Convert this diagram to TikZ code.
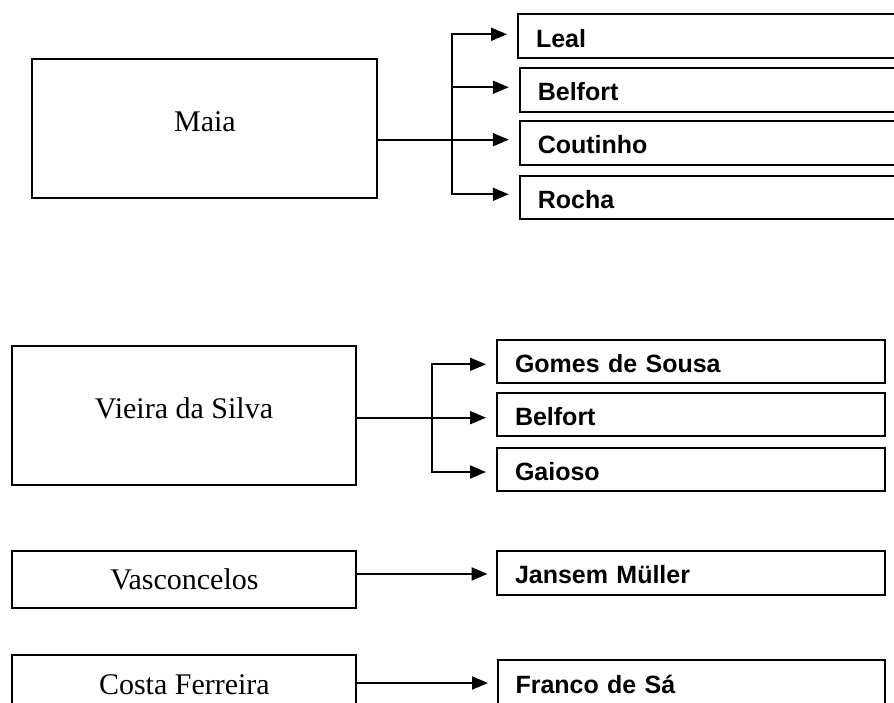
\documentclass[tikz,border=0pt]{standalone}
\usepackage{fontspec}
\setmainfont{Liberation Serif}
\setsansfont{Liberation Sans}
\usetikzlibrary{arrows.meta}
\begin{document}
\begin{tikzpicture}[x=1pt,y=-1pt,
  lbox/.style={draw, line width=2pt, inner sep=0pt, anchor=north west,
    font=\fontsize{30}{30}\selectfont, text height=20pt, text depth=0pt,
    minimum width=344pt},
  bigtext/.style={text depth=14pt},
  rbox/.style={draw, line width=2pt, inner xsep=18pt, inner ysep=0pt,
    anchor=north west, align=left,
    font=\sffamily\bfseries\fontsize{25}{25}\selectfont,
    text height=22pt, text depth=0pt},
  conn/.style={line width=1.8pt, line cap=rect},
  arr/.style={conn, -{Triangle[length=16pt,width=13pt]}, shorten >=10pt},
  arrb/.style={arr, shorten >=8.5pt}]
\useasboundingbox (0,0) rectangle (894,702);

% ---------- Maia group
\node[lbox, bigtext, minimum width=345pt, minimum height=139pt] (maia) at (31.4,58.2) {Maia};
\node[rbox, text width=397pt, minimum height=43.4pt] (leal) at (517,13.4) {Leal};
\node[rbox, text width=395pt, minimum height=43.5pt] (belf) at (518.8,67.1) {Belfort};
\node[rbox, text width=395pt, minimum height=43.8pt] (cout) at (518.8,120) {Coutinho};
\node[rbox, text width=395pt, minimum height=43.4pt] (rocha) at (518.8,174.6) {Rocha};

\coordinate (mj) at (452,0);
\coordinate (lealpt) at ([yshift=1.8pt]leal.west);
\coordinate (belfpt) at ([yshift=2.6pt]belf.west);
\coordinate (coutpt) at ([yshift=3.2pt]cout.west);
\coordinate (rochapt) at ([yshift=3pt]rocha.west);

\draw[arr] (mj |- rochapt) |- (lealpt);
\draw[arr] (mj |- rochapt) -- (rochapt);
\draw[arr] (mj |- belfpt) -- (belfpt);
\draw[arr] (maia.east |- coutpt) -- (coutpt);

% ---------- Vieira da Silva group
\node[lbox, bigtext, minimum height=139pt] (vieira) at (11,345) {Vieira da Silva};
\node[rbox, text width=351.7pt, minimum height=43pt] (gomes) at (496,339.3) {Gomes de Sousa};
\node[rbox, text width=351.7pt, minimum height=42.7pt] (belfb) at (496,392.3) {Belfort};
\node[rbox, text width=351.7pt, minimum height=43pt] (gaioso) at (496,446.5) {Gaioso};

\coordinate (vj) at (431.7,0);
\coordinate (gomespt) at ([yshift=-2.5pt]gomes.west);
\coordinate (belfbpt) at ([yshift=-3pt]belfb.west);
\coordinate (gaiosopt) at ([yshift=-3pt]gaioso.west);

\draw[arr] (vj |- gaiosopt) |- (gomespt);
\draw[arr] (vj |- gaiosopt) -- (gaiosopt);
\draw[arr] (vieira.east |- belfbpt) -- (belfbpt);

% ---------- Vasconcelos
\node[lbox, minimum height=57.7pt] (vasc) at (11.4,549.7) {Vasconcelos};
\node[rbox, text width=351.7pt, minimum height=43.9pt] (jansem) at (496,549.7) {Jansem Müller};
\coordinate (jansempt) at ([yshift=-1.3pt]jansem.west);
\draw[arrb] (vasc.east |- jansempt) -- (jansempt);

% ---------- Costa Ferreira
\node[lbox, minimum height=57.7pt] (costa) at (11.4,654.4) {Costa Ferreira};
\node[rbox, text width=351.2pt, minimum height=45pt] (franco) at (496.5,659) {Franco de Sá};
\coordinate (francopt) at ([yshift=-0.5pt]franco.west);
\draw[arrb] (costa.east |- francopt) -- (francopt);
\end{tikzpicture}
\end{document}
